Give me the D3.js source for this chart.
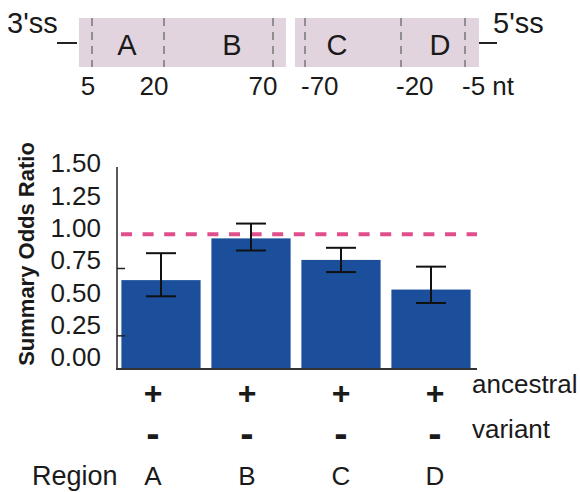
<!DOCTYPE html>
<html>
<head>
<meta charset="utf-8">
<script src="https://cdn.jsdelivr.net/npm/d3@7"></script>
<style>
  html, body { margin: 0; padding: 0; background: #fff; }
  svg { display: block; }
  text { font-family: "Liberation Sans", Arial, Helvetica, sans-serif; fill: #1a1a1a; }
</style>
</head>
<body>
<svg id="chart" width="580" height="492"></svg>
<script>
// ---------- data ----------
const regions = ["A", "B", "C", "D"];
const oddsRatio = [0.66, 0.97, 0.81, 0.59];
const ciLow = [0.54, 0.88, 0.72, 0.49];
const ciHigh = [0.86, 1.08, 0.90, 0.76];
const yTickLabels = [0, 0.25, 0.5, 0.75, 1.0, 1.25, 1.5];
const yTickMarks = [0.25, 0.75];
const referenceLine = 1.0;
const ancestralRow = ["+", "+", "+", "+"];
const variantRow = ["-", "-", "-", "-"];

// schematic (top) labels
const leftPositions = ["5", "20", "70"];
const rightPositions = ["-70", "-20", "-5 nt"];

const svg = d3.select("#chart");

// ---------- schematic ----------
const diag = svg.append("g");
const boxColor = "#e2d4de";
const boxes = [{x0: 79, x1: 286}, {x0: 295, x1: 479}];
diag.selectAll("rect.box").data(boxes).join("rect")
  .attr("x", d => d.x0).attr("y", 18)
  .attr("width", d => d.x1 - d.x0).attr("height", 49)
  .attr("fill", boxColor);

const dashX = [92, 164, 273, 305, 401, 465];
diag.selectAll("line.sep").data(dashX).join("line")
  .attr("x1", d => d).attr("x2", d => d)
  .attr("y1", 18).attr("y2", 67)
  .attr("stroke", "#7c7c7c").attr("stroke-width", 1.6)
  .attr("stroke-dasharray", "8,6");

// flanking dashes
diag.append("line").attr("x1", 57).attr("x2", 77).attr("y1", 43).attr("y2", 43)
  .attr("stroke", "#222").attr("stroke-width", 2);
diag.append("line").attr("x1", 479).attr("x2", 497).attr("y1", 43).attr("y2", 43)
  .attr("stroke", "#222").attr("stroke-width", 2);

diag.append("text").attr("x", 7).attr("y", 33).attr("font-size", 29).text("3'ss");
diag.append("text").attr("x", 493).attr("y", 33).attr("font-size", 29).text("5'ss");

const regionLetterX = [127, 232, 337, 440];
diag.selectAll("text.reg").data(regions).join("text")
  .attr("x", (d, i) => regionLetterX[i]).attr("y", 55)
  .attr("text-anchor", "middle").attr("font-size", 29).text(d => d);

const leftPosX = [88, 154, 263];
diag.selectAll("text.lp").data(leftPositions).join("text")
  .attr("x", (d, i) => leftPosX[i]).attr("y", 95)
  .attr("text-anchor", "middle").attr("font-size", 26).text(d => d);
const rightPosX = [301, 396, 462];
diag.selectAll("text.rp").data(rightPositions).join("text")
  .attr("x", (d, i) => rightPosX[i]).attr("y", 95)
  .attr("text-anchor", "start").attr("font-size", 26).text(d => d);

// ---------- bar chart ----------
const y = d3.scaleLinear().domain([0, 1.5]).range([369, 167]);
const yLabel = d3.scaleLinear().domain([0, 1.5]).range([357, 163]);
const x = d3.scaleBand().domain(regions).range([116, 476])
  .paddingInner(0.12).paddingOuter(0.06);
const xRow = d3.scalePoint().domain(regions).range([153, 435]);

const barColor = "#1b4f9c";

svg.append("g").selectAll("rect.bar").data(regions).join("rect")
  .attr("x", d => x(d))
  .attr("y", (d, i) => y(oddsRatio[i]))
  .attr("width", x.bandwidth())
  .attr("height", (d, i) => y(0) - y(oddsRatio[i]))
  .attr("fill", barColor);

// reference dashed line
svg.append("line")
  .attr("x1", 121).attr("x2", 477)
  .attr("y1", y(referenceLine)).attr("y2", y(referenceLine))
  .attr("stroke", "#e04f8b").attr("stroke-width", 4)
  .attr("stroke-dasharray", "11,10.6");

// error bars
const eb = svg.append("g").attr("stroke", "#111").attr("stroke-width", 2);
const cx = d => x(d) + x.bandwidth() / 2;
eb.selectAll("line.v").data(regions).join("line")
  .attr("x1", cx).attr("x2", cx)
  .attr("y1", (d, i) => y(ciHigh[i])).attr("y2", (d, i) => y(ciLow[i]));
eb.selectAll("line.hi").data(regions).join("line")
  .attr("x1", d => cx(d) - 15).attr("x2", d => cx(d) + 15)
  .attr("y1", (d, i) => y(ciHigh[i])).attr("y2", (d, i) => y(ciHigh[i]));
eb.selectAll("line.lo").data(regions).join("line")
  .attr("x1", d => cx(d) - 15).attr("x2", d => cx(d) + 15)
  .attr("y1", (d, i) => y(ciLow[i])).attr("y2", (d, i) => y(ciLow[i]));

// y axis line and inward ticks
const yAxis = d3.axisLeft(y).tickValues(yTickMarks).tickSizeInner(-8).tickSizeOuter(0).tickFormat("");
const yg = svg.append("g").attr("transform", "translate(117,0)").call(yAxis);
yg.select(".domain").attr("stroke", "#222").attr("stroke-width", 1.5)
  .attr("d", `M0,${y(1.5)}V${y(0)}`);
yg.selectAll(".tick line").attr("stroke", "#222").attr("stroke-width", 1.5);

// y tick labels
svg.append("g").selectAll("text.yl").data(yTickLabels).join("text")
  .attr("x", 101).attr("y", d => yLabel(d))
  .attr("dy", "0.36em")
  .attr("text-anchor", "end").attr("font-size", 26)
  .text(d => d3.format(".2f")(d));

// x axis line
svg.append("line").attr("x1", 116).attr("x2", 477)
  .attr("y1", y(0)).attr("y2", y(0))
  .attr("stroke", "#333").attr("stroke-width", 2);

// y title
svg.append("text")
  .attr("transform", "translate(26,254) rotate(-90)")
  .attr("text-anchor", "middle").attr("dominant-baseline", "central")
  .attr("font-size", 22).attr("font-weight", "bold")
  .text("Summary Odds Ratio");

// annotation rows
svg.append("g").selectAll("text.anc").data(ancestralRow).join("text")
  .attr("x", (d, i) => xRow(regions[i])).attr("y", 392).attr("dy", "0.36em")
  .attr("text-anchor", "middle").attr("font-size", 32).attr("font-weight", "bold")
  .text(d => d);
svg.append("g").selectAll("text.var").data(variantRow).join("text")
  .attr("x", (d, i) => xRow(regions[i])).attr("y", 433).attr("dy", "0.36em")
  .attr("text-anchor", "middle").attr("font-size", 40).attr("font-weight", "bold")
  .text(d => d);
svg.append("text").attr("x", 472).attr("y", 393).attr("font-size", 26).text("ancestral");
svg.append("text").attr("x", 472).attr("y", 438).attr("font-size", 26).text("variant");
svg.append("text").attr("x", 32).attr("y", 485).attr("font-size", 27).text("Region");
svg.append("g").selectAll("text.rl").data(regions).join("text")
  .attr("x", d => xRow(d)).attr("y", 485)
  .attr("text-anchor", "middle").attr("font-size", 26).text(d => d);
</script>
</body>
</html>
